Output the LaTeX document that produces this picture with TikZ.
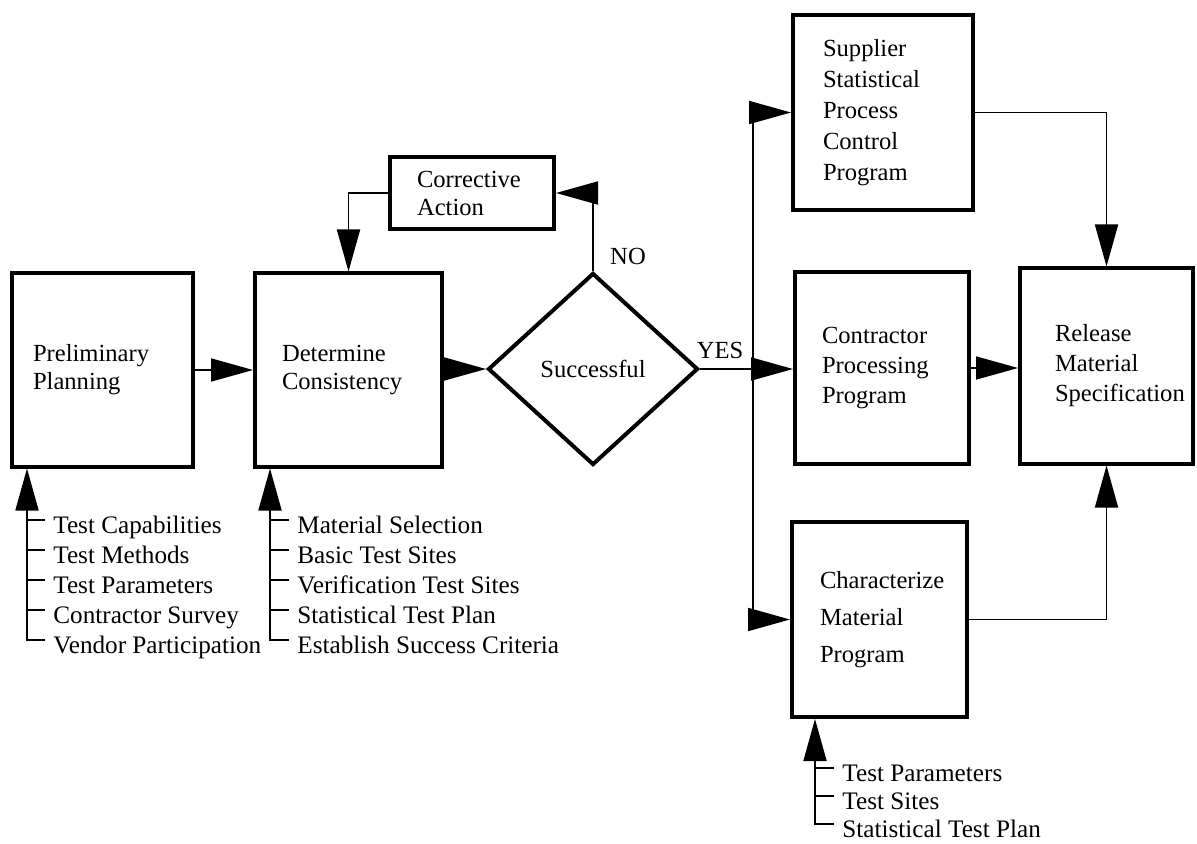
\documentclass[tikz,border=0pt]{standalone}
\usepackage{fontspec}
\setmainfont{Liberation Serif}
\usetikzlibrary{arrows.meta,shapes.geometric}
\begin{document}
\begin{tikzpicture}[x=0.5pt,y=-0.5pt,
  box/.style={draw, line width=2pt, inner ysep=0pt, align=left, font=\fontsize{12.3}{15}\selectfont},
  arr/.style={line width=0.9pt, -{Triangle[length=21pt,width=11.5pt]}},
  conn/.style={line width=0.9pt},
  item/.style={anchor=base west, inner sep=0pt, font=\fontsize{12.6}{14}\selectfont},
  lbl/.style={inner sep=0pt, font=\fontsize{12.3}{14}\selectfont}]
\useasboundingbox (0,0) rectangle (1197,844);

% main boxes
\node[box, minimum width=90.5pt, minimum height=96.5pt, inner xsep=10.5pt, text width=69.5pt,
  font=\fontsize{12.3}{14}\selectfont] (PP) at (102.5,370) {Preliminary\\Planning};
\node[box, minimum width=93.5pt, minimum height=96.5pt, inner xsep=13.5pt, text width=66.5pt,
  font=\fontsize{12.3}{14}\selectfont] (DC) at (348.5,370) {Determine\\Consistency};
\node[box, minimum width=82pt, minimum height=36pt, inner xsep=13.5pt, text width=55pt,
  font=\fontsize{12.3}{14}\selectfont] (CA) at (472,193) {Corrective\\Action};
\node[draw, diamond, line width=2pt, minimum width=105pt, minimum height=96pt, inner sep=0pt,
  font=\fontsize{12.3}{14}\selectfont] (S) at (593,369) {Successful};
\node[box, minimum width=90pt, minimum height=97.5pt, inner xsep=15pt, text width=60pt,
  font=\fontsize{12.3}{15.5}\selectfont] (Sup) at (883,112.5) {Supplier\\Statistical\\Process\\Control\\Program};
\node[box, minimum width=87pt, minimum height=95.5pt, inner xsep=13.5pt, text width=60pt] (Con) at (882,368)
  {Contractor\\Processing\\Program};
\node[box, minimum width=86.5pt, minimum height=97.5pt, inner xsep=17.5pt, text width=51.5pt] (Rel) at (1106.5,366)
  {Release\\Material\\Specification};
\node[box, minimum width=87.5pt, minimum height=97.5pt, inner xsep=14pt, text width=59.5pt,
  font=\fontsize{12.3}{18.5}\selectfont] (Cha) at (879.5,619.5) {Characterize\\Material\\Program};

% labels
\node[lbl] (no) at (628,256) {NO};
\node[lbl] (yes) at (720,350) {YES};

% main flow
\draw[arr] (PP) -- (DC);
\draw[arr] (DC.east |- S.west) -- (S.west);
\draw[arr] (S.north) |- (CA.east);
\draw[arr] (CA.west) -| (DC.north);
\draw[arr] (S.east) -- (Con.west |- S.east);
\coordinate (bus) at (753,369);
\draw[conn] (bus |- Sup.west) -- (bus |- Cha.west);
\draw[arr] (bus |- Sup.west) -- (Sup.west);
\draw[arr] (bus |- Cha.west) -- (Cha.west);
\draw[arr] (Sup.east) -| (Rel.north);
\draw[arr] (Con.east) -- (Rel.west |- Con.east);
\draw[arr] (Cha.east) -| (Rel.south);

% input list for Preliminary Planning
\coordinate (pin) at (27,512);
\draw[arr] (pin) -- (pin |- PP.south);
\node[item] (p1) at (53,533) {Test Capabilities};
\node[item] (p2) at (53,563) {Test Methods};
\node[item] (p3) at (53,593) {Test Parameters};
\node[item] (p4) at (53,623) {Contractor Survey};
\node[item] (p5) at (53,653) {Vendor Participation};
\foreach \k in {1,...,4} \draw[conn] ([shift={(-8,-13)}]p\k.base west) -- ++(-18,0);
\draw[conn] (pin) |- ([shift={(-8,-13)}]p5.base west);

% input list for Determine Consistency
\coordinate (din) at (270,512);
\draw[arr] (din) -- (din |- DC.south);
\node[item] (d1) at (297,533) {Material Selection};
\node[item] (d2) at (297,563) {Basic Test Sites};
\node[item] (d3) at (297,593) {Verification Test Sites};
\node[item] (d4) at (297,623) {Statistical Test Plan};
\node[item] (d5) at (297,653) {Establish Success Criteria};
\foreach \k in {1,...,4} \draw[conn] ([shift={(-8,-13)}]d\k.base west) -- ++(-18,0);
\draw[conn] (din) |- ([shift={(-8,-13)}]d5.base west);

% input list for Characterize Material Program
\coordinate (cin) at (815,762);
\draw[arr] (cin) -- (cin |- Cha.south);
\node[item] (c1) at (842,781) {Test Parameters};
\node[item] (c2) at (842,809) {Test Sites};
\node[item] (c3) at (842,837) {Statistical Test Plan};
\foreach \k in {1,2} \draw[conn] ([shift={(-8,-13)}]c\k.base west) -- ++(-18,0);
\draw[conn] (cin) |- ([shift={(-8,-13)}]c3.base west);
\end{tikzpicture}
\end{document}
